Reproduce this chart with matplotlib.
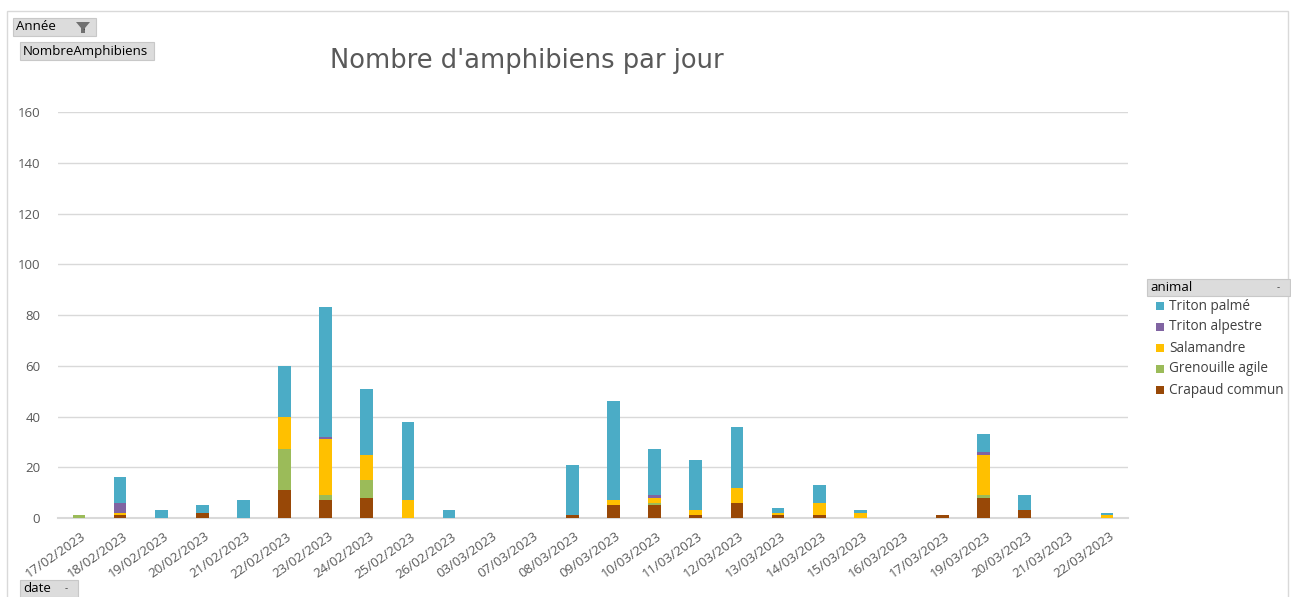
import matplotlib.pyplot as plt
from matplotlib.patches import Rectangle, Polygon
from matplotlib.transforms import ScaledTranslation
import numpy as np

dates = ["17/02/2023", "18/02/2023", "19/02/2023", "20/02/2023", "21/02/2023",
         "22/02/2023", "23/02/2023", "24/02/2023", "25/02/2023", "26/02/2023",
         "03/03/2023", "07/03/2023", "08/03/2023", "09/03/2023", "10/03/2023",
         "11/03/2023", "12/03/2023", "13/03/2023", "14/03/2023", "15/03/2023",
         "16/03/2023", "17/03/2023", "19/03/2023", "20/03/2023", "21/03/2023",
         "22/03/2023"]

# stacked bottom -> top
crapaud_commun = [0, 1, 0, 2, 0, 11, 7, 8, 0, 0, 0, 0, 1, 5, 5, 1, 6, 1, 1, 0, 0, 1, 8, 3, 0, 0]
grenouille_agile = [1, 0, 0, 0, 0, 16, 2, 7, 0, 0, 0, 0, 0, 0, 1, 0, 0, 0, 0, 0, 0, 0, 1, 0, 0, 0]
salamandre = [0, 1, 0, 0, 0, 13, 22, 10, 7, 0, 0, 0, 0, 2, 2, 2, 6, 1, 5, 2, 0, 0, 16, 0, 0, 1]
triton_alpestre = [0, 4, 0, 0, 0, 0, 1, 0, 0, 0, 0, 0, 0, 0, 1, 0, 0, 0, 0, 0, 0, 0, 1, 0, 0, 0]
triton_palme = [0, 10, 3, 3, 7, 20, 51, 26, 31, 3, 0, 0, 20, 39, 18, 20, 24, 2, 7, 1, 0, 0, 7, 6, 0, 1]

series = [
    ("Crapaud commun", crapaud_commun, "#984807"),
    ("Grenouille agile", grenouille_agile, "#9BBB59"),
    ("Salamandre", salamandre, "#FFC000"),
    ("Triton alpestre", triton_alpestre, "#8064A2"),
    ("Triton palmé", triton_palme, "#4BACC6"),
]

W, H = 1291, 597
plt.rcParams['font.family'] = ['Open Sans', 'DejaVu Sans']
fig = plt.figure(figsize=(W / 100, H / 100), dpi=100)

ax = fig.add_axes([58.4 / W, 79 / H, 1069.2 / W, 406 / H])
x = np.arange(len(dates))
bottom = np.zeros(len(dates))
for name, vals, col in series:
    vals = np.array(vals, dtype=float)
    ax.bar(x, vals, 0.31, bottom=bottom, color=col, label=name, zorder=3)
    bottom += vals

ax.set_xlim(-0.5, len(dates) - 0.5)
ax.set_ylim(0, 160)
ax.set_yticks(range(0, 161, 20))
ax.yaxis.grid(True, color="#d9d9d9", linewidth=1, zorder=0)
for s in ["top", "right", "left"]:
    ax.spines[s].set_visible(False)
ax.spines["bottom"].set_color("#d9d9d9")
ax.spines["bottom"].set_linewidth(1.5)
ax.tick_params(axis="both", length=0, colors="#595959")
ax.tick_params(axis="y", pad=13, labelsize=9.5)
ax.tick_params(axis="x", pad=8.6, labelsize=9.5)
ax.set_xticks(x)
ax.set_xticklabels(dates, rotation=35, ha="right", va="top", rotation_mode="anchor")
shift = ScaledTranslation(2 / 100, 0, fig.dpi_scale_trans)
for lab in ax.get_xticklabels():
    lab.set_transform(lab.get_transform() + shift)

fig.text(527 / W, 1 - 61 / H, "Nombre d'amphibiens par jour", fontsize=18.5,
         family="DejaVu Sans", color="#595959", ha="center", va="center")

# outer chart border
fig.patches.append(Rectangle((7 / W, -0.01), (1288 - 7) / W, 1 - 11 / H + 0.01,
                             transform=fig.transFigure, fill=False,
                             edgecolor="#d9d9d9", linewidth=1))


def button(x0, y0, x1, y1, text, extra=None, size=9.5):
    fig.patches.append(Rectangle((x0 / W, 1 - y1 / H), (x1 - x0) / W, (y1 - y0) / H,
                                 transform=fig.transFigure, facecolor="#dcdcdc",
                                 edgecolor="#c8c8c8", linewidth=0.8))
    fig.text((x0 + 3) / W, 1 - (y0 + y1) / 2 / H, text, fontsize=size,
             color="black", ha="left", va="center")
    if extra:
        fig.text((x1 - 12) / W, 1 - (y0 + y1) / 2 / H, extra, fontsize=7,
                 color="#404040", ha="center", va="center")


button(13, 18, 96, 36, "Année", ".")
# filter funnel icon
fx, fy = 83, 22
funnel = [(fx - 7, fy), (fx + 7, fy), (fx + 2, fy + 6), (fx + 2, fy + 11),
          (fx - 2, fy + 11), (fx - 2, fy + 6)]
fig.patches.append(Polygon([(px / W, 1 - py / H) for px, py in funnel],
                           closed=True, transform=fig.transFigure,
                           facecolor="#707070", edgecolor="none"))
button(20, 42, 154, 60, "NombreAmphibiens")
button(20, 580, 78, 597, "date", "-")
button(1147, 279, 1290, 296, "animal", "-")

# legend
legend_y = [306, 327, 348, 369, 390]
for (name, vals, col), ly in zip(reversed(series), legend_y):
    fig.patches.append(Rectangle((1156 / W, 1 - (ly + 4) / H), 8 / W, 8 / H,
                                 transform=fig.transFigure, facecolor=col,
                                 edgecolor="none"))
    fig.text(1169 / W, 1 - ly / H, name, fontsize=9.8, color="#404040",
             ha="left", va="center")

fig.savefig("out.png", dpi=100, facecolor="white")
